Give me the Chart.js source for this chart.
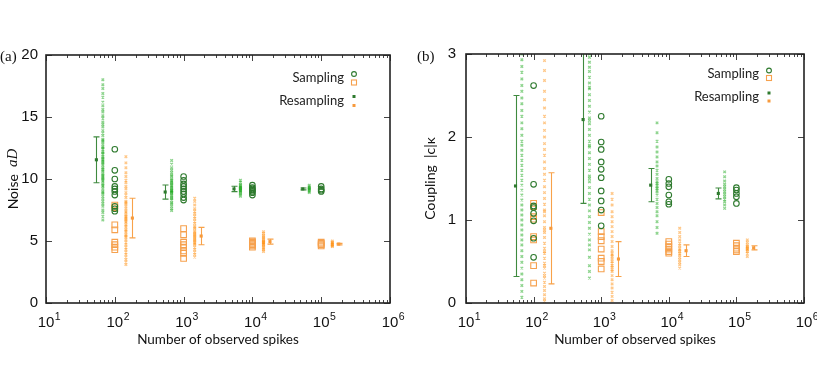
<!DOCTYPE html>
<html><head><meta charset="utf-8">
<script src="https://cdn.jsdelivr.net/npm/chart.js@4"></script>
<style>
html,body{margin:0;padding:0;background:#fff;width:817px;height:378px;overflow:hidden}
.p{position:absolute;top:0;height:378px}
#wa{left:0;width:410px}
#wb{left:410px;width:407px}
</style></head><body>
<div class="p" id="wa"><canvas id="ca"></canvas></div>
<div class="p" id="wb"><canvas id="cb"></canvas></div>
<script>
// ---------- DATA ----------
const groupN = [100, 1000, 10000, 100000];          // number of observed spikes
const xTickExps = [1, 2, 3, 4, 5, 6];               // x tick labels 10^k
const legendLabels = ['Sampling', 'Resampling'];

// Panel (a): Noise aD
const noiseSampGreen = [
  [12.4, 10.7, 10.0, 9.4, 9.2, 9.0, 8.7, 7.8, 7.6, 7.4],
  [10.2, 9.9, 9.6, 9.4, 9.2, 9.0, 8.8, 8.5, 8.3],
  [9.5, 9.3, 9.2, 9.1, 9.0, 8.9, 8.7],
  [9.4, 9.2, 9.1, 9.0]
];
const noiseSampOrange = [
  [7.9, 7.7, 6.3, 5.9, 4.9, 4.7, 4.5, 4.3],
  [6.0, 5.5, 4.9, 4.7, 4.5, 4.2, 4.0, 3.6],
  [5.0, 4.9, 4.8, 4.7, 4.6, 4.5],
  [4.9, 4.8, 4.7, 4.6]
];
const noiseResampGreen = [
  [18.0, 17.6, 17.3, 16.9, 16.6, 16.2, 15.9, 15.6, 15.4, 15.1, 14.9, 14.6, 14.4, 14.2, 13.9, 13.7, 13.5, 13.2, 13.0, 12.8, 12.6, 12.4, 12.2, 12.0, 11.8, 11.7, 11.5, 11.3, 11.1, 10.9, 10.8, 10.6, 10.4, 10.2, 10.0, 9.8, 9.6, 9.4, 9.2, 9.0, 8.8, 8.6, 8.4, 8.2, 8.0, 7.8, 7.5, 7.3, 7.0, 6.7, 12.1, 11.6, 11.2, 10.7, 10.3, 9.9, 11.4, 12.5, 10.1, 9.5, 13.1, 8.9],
  [11.5, 11.2, 10.9, 10.7, 10.5, 10.3, 10.2, 10.0, 9.9, 9.7, 9.6, 9.5, 9.4, 9.2, 9.1, 9.0, 8.9, 8.8, 8.7, 8.5, 8.4, 8.3, 8.1, 8.0, 7.8, 7.6, 7.45, 9.3, 8.95, 9.05, 8.6, 9.8],
  [9.9, 9.75, 9.6, 9.5, 9.4, 9.35, 9.3, 9.25, 9.2, 9.15, 9.1, 9.05, 9.0, 8.9, 8.8, 8.7, 8.6],
  [9.5, 9.4, 9.3, 9.25, 9.2, 9.15, 9.1, 9.0, 8.9]
];
const noiseResampOrange = [
  [11.8, 11.3, 10.9, 10.5, 10.2, 9.9, 9.7, 9.4, 9.2, 8.9, 8.7, 8.5, 8.2, 8.0, 7.8, 7.6, 7.3, 7.1, 6.9, 6.7, 6.5, 6.3, 6.1, 5.9, 5.7, 5.5, 5.3, 5.1, 4.9, 4.7, 4.5, 4.3, 4.1, 3.9, 3.7, 3.5, 3.3, 3.1, 6.8, 7.0, 6.6, 7.4, 6.2, 5.8, 8.1, 5.4],
  [8.45, 8.2, 7.9, 7.6, 7.4, 7.2, 7.0, 6.8, 6.6, 6.4, 6.2, 6.0, 5.8, 5.6, 5.5, 5.4, 5.3, 5.1, 4.9, 4.7, 4.5, 4.3, 4.1, 3.9, 3.7, 5.2, 5.0, 5.7, 4.8, 6.1],
  [5.75, 5.6, 5.45, 5.35, 5.25, 5.15, 5.05, 5.0, 4.95, 4.9, 4.85, 4.8, 4.75, 4.7, 4.6, 4.5, 4.4, 4.3, 4.15],
  [5.0, 4.9, 4.85, 4.8, 4.75, 4.7, 4.65, 4.6, 4.55]
];
const noiseMeanGreen = [11.55, 8.95, 9.2, 9.2];
const noiseErrGreen = [1.85, 0.57, 0.22, 0.08];
const noiseMeanOrange = [6.85, 5.4, 4.95, 4.75];
const noiseErrOrange = [1.6, 0.7, 0.2, 0.06];
const noiseYTicks = [0, 5, 10, 15, 20];

// Panel (b): Coupling |c|kappa
const coupSampGreen = [
  [2.62, 1.43, 1.17, 1.15, 1.08, 0.99, 0.78, 0.55],
  [2.25, 1.94, 1.85, 1.70, 1.61, 1.51, 1.35, 1.23, 1.12, 0.93],
  [1.49, 1.44, 1.40, 1.30, 1.22, 1.19],
  [1.39, 1.36, 1.32, 1.28, 1.20]
];
const coupSampOrange = [
  [1.2, 1.16, 1.04, 1.01, 0.8, 0.76, 0.45, 0.24],
  [1.09, 0.86, 0.8, 0.75, 0.65, 0.54, 0.5, 0.41],
  [0.74, 0.71, 0.68, 0.65, 0.62, 0.6],
  [0.72, 0.69, 0.66, 0.64, 0.62]
];
const coupResampGreen = [
  [3.0, 2.93, 2.85, 2.78, 2.7, 2.62, 2.55, 2.47, 2.4, 2.32, 2.25, 2.17, 2.1, 2.02, 1.95, 1.9, 1.84, 1.78, 1.72, 1.66, 1.6, 1.54, 1.48, 1.42, 1.36, 1.3, 1.24, 1.18, 1.12, 1.06, 1.0, 0.94, 0.88, 0.82, 0.76, 0.7, 0.63, 0.56, 0.49, 0.42, 0.35, 0.28, 0.21, 0.14, 0.07],
  [3.0, 2.96, 2.9, 2.84, 2.79, 2.72, 2.65, 2.58, 2.51, 2.44, 2.37, 2.3, 2.23, 2.16, 2.09, 2.02, 1.95, 1.88, 1.81, 1.74, 1.67, 1.6, 1.53, 1.46, 1.39, 1.32, 1.25, 1.18, 1.11, 1.04, 0.97, 0.9, 0.83, 0.76, 0.7, 0.64, 0.55, 0.45, 0.38, 0.3, 2.2, 1.5, 1.9, 2.6],
  [2.17, 2.05, 1.95, 1.88, 1.82, 1.76, 1.7, 1.65, 1.6, 1.55, 1.5, 1.46, 1.42, 1.38, 1.34, 1.3, 1.25, 1.2, 1.15, 1.1, 1.05, 0.98, 0.91, 0.84, 1.44, 1.4, 1.36],
  [1.58, 1.52, 1.47, 1.43, 1.4, 1.37, 1.34, 1.31, 1.28, 1.25, 1.22, 1.18, 1.14]
];
const coupResampOrange = [
  [2.92, 2.8, 2.68, 2.55, 2.45, 2.35, 2.25, 2.17, 2.08, 2.0, 1.92, 1.85, 1.78, 1.7, 1.62, 1.55, 1.48, 1.4, 1.33, 1.26, 1.19, 1.12, 1.05, 0.98, 0.91, 0.85, 0.79, 0.72, 0.66, 0.6, 0.54, 0.48, 0.42, 0.36, 0.3, 0.25, 0.2, 0.15, 0.1, 0.05, 0.02, 0.88, 0.62, 0.45, 1.1, 0.33],
  [1.32, 1.25, 1.18, 1.1, 1.04, 0.98, 0.92, 0.86, 0.8, 0.74, 0.68, 0.63, 0.58, 0.53, 0.48, 0.43, 0.38, 0.33, 0.28, 0.23, 0.18, 0.13, 0.08, 0.03, 0.5, 0.56, 0.45, 0.6, 0.4],
  [0.9, 0.85, 0.8, 0.76, 0.72, 0.69, 0.66, 0.64, 0.62, 0.6, 0.58, 0.55, 0.52, 0.49, 0.46, 0.42],
  [0.76, 0.73, 0.7, 0.68, 0.67, 0.66, 0.65, 0.64, 0.62, 0.6, 0.56]
];
const coupMeanGreen = [1.41, 2.21, 1.42, 1.32];
const coupErrGreen = [1.09, 1.01, 0.2, 0.065];
const coupMeanOrange = [0.9, 0.53, 0.63, 0.665];
const coupErrOrange = [0.67, 0.21, 0.07, 0.025];
const coupYTicks = [0, 1, 2, 3];

// ---------- STYLE / LAYOUT ----------
const OFF = {ebG: 0.54, stripG: 0.67, samp: 1, stripO: 1.45, ebO: 1.8};
const C = {
  gCirc: '#2e7a2e', gEB: '#3f8a3f', gStrip: 'rgba(30,170,30,0.5)', gMean: '#2e7a2e',
  oSq: '#f6a14e', oEB: '#f8a24a', oStrip: 'rgba(255,145,20,0.5)', oMean: '#f79a3c'
};
const SANS = 'Lato';
const TICKF = '"Liberation Sans"';

const PANELS = {
  ca: {
    label: '(a)', labelX: 0, labelY: 57,
    yMax: 20, yTicks: noiseYTicks, yW: 46, padR: 20, padT: 55, xH: 75, yPad: 8,
    sG: noiseSampGreen, sO: noiseSampOrange, rG: noiseResampGreen, rO: noiseResampOrange,
    mG: noiseMeanGreen, eG: noiseErrGreen, mO: noiseMeanOrange, eO: noiseErrOrange,
    yTitle: [['Noise  ', '14px ' + SANS], ['aD', 'italic 15px "Liberation Serif"']], yTitleX: 13,
    legTextR: 344, legMX: 354, legY1: 78, legY2: 101, legOff: 4.5
  },
  cb: {
    label: '(b)', labelX: 7, labelY: 57,
    yMax: 3, yTicks: coupYTicks, yW: 56, padR: 13, padT: 54, xH: 75, yPad: 10,
    sG: coupSampGreen, sO: coupSampOrange, rG: coupResampGreen, rO: coupResampOrange,
    mG: coupMeanGreen, eG: coupErrGreen, mO: coupMeanOrange, eO: coupErrOrange,
    yTitle: [['Coupling  |c|\u03BA', '14px ' + SANS]], yTitleX: 20,
    legTextR: 349, legMX: 359, legY1: 74, legY2: 97, legOff: 4
  }
};

function pts(arr, f) {
  const out = [];
  arr.forEach((vals, i) => vals.forEach(v => out.push({x: groupN[i] * f, y: v})));
  return out;
}
function meanPts(means, f) { return means.map((m, i) => ({x: groupN[i] * f, y: m})); }

const decor = {
  id: 'decor',
  beforeDatasetsDraw(chart) {
    const p = PANELS[chart.canvas.id];
    const {ctx, chartArea: a, scales: {x, y}} = chart;
    ctx.save();
    ctx.beginPath(); ctx.rect(a.left, a.top, a.right - a.left, a.bottom - a.top); ctx.clip();
    const eb = (n, m, e, col) => {
      const px = Math.round(x.getPixelForValue(n)) + 0.5;
      const y1 = y.getPixelForValue(m + e), y2 = y.getPixelForValue(m - e);
      ctx.strokeStyle = col; ctx.lineWidth = 1.1;
      ctx.beginPath();
      ctx.moveTo(px, y1); ctx.lineTo(px, y2);
      ctx.moveTo(px - 3, y1); ctx.lineTo(px + 3, y1);
      ctx.moveTo(px - 3, y2); ctx.lineTo(px + 3, y2);
      ctx.stroke();
    };
    groupN.forEach((n, i) => {
      eb(n * OFF.ebG, p.mG[i], p.eG[i], C.gEB);
      eb(n * OFF.ebO, p.mO[i], p.eO[i], C.oEB);
    });
    ctx.restore();
  },
  afterDraw(chart) {
    const p = PANELS[chart.canvas.id];
    const {ctx, chartArea: a, scales: {x, y}} = chart;
    ctx.save();
    // ticks
    ctx.strokeStyle = '#444'; ctx.lineWidth = 1;
    ctx.beginPath();
    for (let k = 1; k <= 6; k++) {
      const base = Math.pow(10, k);
      const px = Math.round(x.getPixelForValue(base)) + 0.5;
      ctx.moveTo(px, a.bottom); ctx.lineTo(px, a.bottom - 6);
      ctx.moveTo(px, a.top); ctx.lineTo(px, a.top + 6);
      if (k < 6) for (let m = 2; m <= 9; m++) {
        const q = Math.round(x.getPixelForValue(m * base)) + 0.5;
        ctx.moveTo(q, a.bottom); ctx.lineTo(q, a.bottom - 3);
        ctx.moveTo(q, a.top); ctx.lineTo(q, a.top + 3);
      }
    }
    p.yTicks.forEach(v => {
      const py = Math.round(y.getPixelForValue(v)) + 0.5;
      ctx.moveTo(a.left, py); ctx.lineTo(a.left + 6, py);
      ctx.moveTo(a.right, py); ctx.lineTo(a.right - 6, py);
    });
    ctx.stroke();
    // frame
    ctx.strokeStyle = '#222'; ctx.lineWidth = 1.6;
    ctx.strokeRect(Math.round(a.left), Math.round(a.top), Math.round(a.right - a.left), Math.round(a.bottom - a.top));
    // x tick labels 10^k
    ctx.fillStyle = '#111'; ctx.textBaseline = 'alphabetic';
    xTickExps.forEach(k => {
      const px = x.getPixelForValue(Math.pow(10, k));
      ctx.font = '15px ' + TICKF; ctx.textAlign = 'center';
      const w = ctx.measureText('10').width;
      ctx.fillText('10', px, 327);
      ctx.font = '10.5px ' + TICKF; ctx.textAlign = 'left';
      ctx.fillText(String(k), px + w / 2 + 0.5, 320);
    });
    // x title
    ctx.font = '13.5px ' + SANS; ctx.textAlign = 'center'; ctx.fillStyle = '#111';
    ctx.fillText('Number of observed spikes', (a.left + a.right) / 2, 344);
    // y title (rotated, mixed fonts)
    ctx.save();
    ctx.translate(p.yTitleX, (a.top + a.bottom) / 2);
    ctx.rotate(-Math.PI / 2);
    let tot = 0;
    p.yTitle.forEach(([t, f]) => { ctx.font = f; tot += ctx.measureText(t).width; });
    let cx = -tot / 2;
    ctx.textAlign = 'left'; ctx.textBaseline = 'middle';
    p.yTitle.forEach(([t, f]) => { ctx.font = f; ctx.fillText(t, cx, 0); cx += ctx.measureText(t).width; });
    ctx.restore();
    // panel label
    ctx.font = '15px "Liberation Serif"'; ctx.textAlign = 'left'; ctx.textBaseline = 'middle';
    ctx.fillText(p.label, p.labelX, p.labelY);
    // legend
    ctx.font = '13px ' + SANS; ctx.textAlign = 'right'; ctx.textBaseline = 'middle';
    ctx.fillStyle = '#222';
    ctx.fillText(legendLabels[0], p.legTextR, p.legY1);
    ctx.fillText(legendLabels[1], p.legTextR, p.legY2);
    const mx = p.legMX, o = p.legOff;
    ctx.lineWidth = 1.1;
    ctx.strokeStyle = C.gCirc; ctx.beginPath(); ctx.arc(mx, p.legY1 - o + 0.5, 2.4, 0, Math.PI * 2); ctx.stroke();
    ctx.strokeStyle = C.oSq; ctx.strokeRect(mx - 2.5, p.legY1 + o - 2.5, 5, 5);
    ctx.fillStyle = C.gMean; ctx.fillRect(mx - 1.5, p.legY2 - o - 1.5, 3, 3);
    ctx.fillStyle = C.oMean; ctx.fillRect(mx - 1.5, p.legY2 + o - 1.5, 3, 3);
    ctx.restore();
  }
};

function makePanel(id) {
  const p = PANELS[id];
  return new Chart(document.getElementById(id), {
    type: 'scatter',
    data: {datasets: [
      {data: meanPts(p.mG, OFF.ebG), pointStyle: 'rect', radius: 2.2, backgroundColor: C.gMean, borderColor: C.gMean, borderWidth: 0},
      {data: meanPts(p.mO, OFF.ebO), pointStyle: 'rect', radius: 2.2, backgroundColor: C.oMean, borderColor: C.oMean, borderWidth: 0},
      {data: pts(p.sG, OFF.samp), pointStyle: 'circle', radius: 2.8, backgroundColor: 'rgba(0,0,0,0)', borderColor: C.gCirc, borderWidth: 1.1},
      {data: pts(p.sO, OFF.samp), pointStyle: 'rect', radius: 4, backgroundColor: 'rgba(0,0,0,0)', borderColor: C.oSq, borderWidth: 1.1},
      {data: pts(p.rG, OFF.stripG), pointStyle: 'crossRot', radius: 1.8, borderColor: C.gStrip, borderWidth: 1.3},
      {data: pts(p.rO, OFF.stripO), pointStyle: 'crossRot', radius: 1.8, borderColor: C.oStrip, borderWidth: 1.3}
    ]},
    options: {
      responsive: true, maintainAspectRatio: false, animation: false,
      events: [],
      layout: {padding: {left: 0, right: p.padR, top: p.padT, bottom: 0}},
      plugins: {legend: {display: false}, tooltip: {enabled: false}},
      scales: {
        x: {type: 'logarithmic', min: 10, max: 1e6,
            grid: {display: false, drawTicks: false}, border: {display: false},
            ticks: {display: false}, afterFit(s) { s.height = p.xH; }},
        y: {type: 'linear', min: 0, max: p.yMax,
            grid: {display: false, drawTicks: false}, border: {display: false},
            afterBuildTicks(s) { s.ticks = p.yTicks.map(v => ({value: v})); },
            ticks: {padding: p.yPad, color: '#111', font: {family: 'Liberation Sans', size: 15}},
            afterFit(s) { s.width = p.yW; }}
      }
    },
    plugins: [decor]
  });
}
makePanel('ca');
makePanel('cb');
</script>
</body></html>
